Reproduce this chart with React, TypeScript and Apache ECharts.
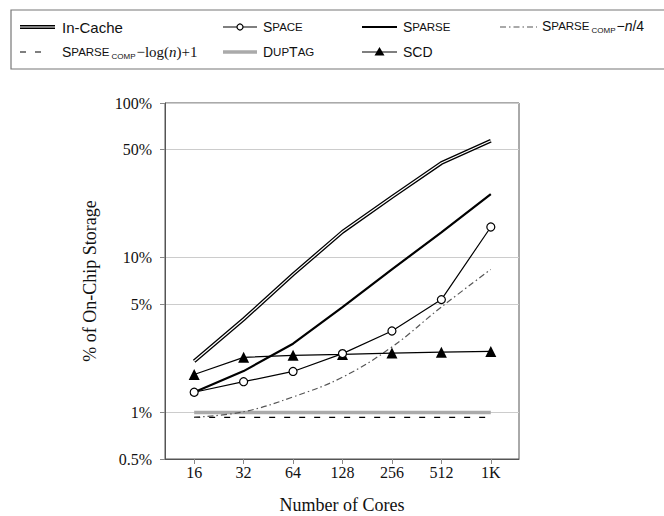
import React, { useEffect, useRef } from "react";
import * as echarts from "echarts";

const cores = [16, 32, 64, 128, 256, 512, 1024];
const inCache = [2.14, 4.0, 7.8, 14.7, 24.7, 40.9, 57];
const space = [1.35, 1.58, 1.84, 2.4, 3.36, 5.36, 15.8];
const sparse = [1.35, 1.85, 2.78, 4.8, 8.4, 14.6, 25.8];
const sparseN4 = [0.93, 1.01, 1.26, 1.69, 2.65, 4.8, 8.4];
const sparseLog = [0.93, 0.93, 0.93, 0.93, 0.93, 0.93, 0.93];
const dupTag = [1, 1, 1, 1, 1, 1, 1];
const scd = [1.76, 2.27, 2.34, 2.37, 2.42, 2.45, 2.48];
const yTicks = [0.5, 1, 5, 10, 50, 100];

const pts = (vals: number[]) => cores.map((c, i) => [c, vals[i]]);

const SANS = "'Liberation Sans', Arial, sans-serif";
const SERIF = "'Liberation Serif', 'Times New Roman', serif";

const capRich = {
  S: { fontFamily: SANS, fontSize: 14, lineHeight: 17, fill: "#111" },
  s: { fontFamily: SANS, fontSize: 11.5, lineHeight: 17, fill: "#111" },
  sub: { fontFamily: SANS, fontSize: 8, lineHeight: 9, verticalAlign: "bottom", fill: "#111", padding: [0, 1, 0, 2] },
  m: { fontFamily: SANS, fontSize: 14, lineHeight: 17, fill: "#111" },
  L: { fontFamily: SANS, fontSize: 15, lineHeight: 17, fill: "#111" },
  i: { fontFamily: SANS, fontSize: 14, fontStyle: "italic", lineHeight: 17, fill: "#111" },
  r: { fontFamily: SERIF, fontSize: 15, lineHeight: 17, fill: "#111" },
  ri: { fontFamily: SERIF, fontSize: 15, fontStyle: "italic", lineHeight: 17, fill: "#111" },
};

function legendGraphics() {
  const r1 = 27;
  const r2 = 52;
  const g: any[] = [];
  g.push({ type: "rect", shape: { x: 11, y: 10, width: 700, height: 59 }, style: { fill: "none", stroke: "#777", lineWidth: 1.2 } });
  const line = (x1: number, x2: number, y: number, style: any) =>
    g.push({ type: "line", shape: { x1, y1: y, x2, y2: y }, style: { stroke: "#000", lineWidth: 1.2, ...style } });
  const text = (x: number, y: number, t: string) =>
    g.push({ type: "text", x, y, style: { text: t, rich: capRich, verticalAlign: "middle", align: "left", font: `14px ${SANS}`, fill: "#111" } });
  // In-Cache
  line(20, 55, r1, { lineWidth: 3.8 });
  line(20, 55, r1, { lineWidth: 1.2, stroke: "#fff" });
  text(62, r1, "{L|In-Cache}");
  // Space
  line(223, 257, r1, {});
  g.push({ type: "circle", shape: { cx: 240, cy: r1, r: 3 }, style: { fill: "#fff", stroke: "#000", lineWidth: 1.2 } });
  text(263, r1, "{S|S}{s|PACE}");
  // Sparse
  line(362, 397, r1, { lineWidth: 2.2 });
  text(403, r1, "{S|S}{s|PARSE}");
  // Sparse comp n/4
  line(500, 537, r1, { stroke: "#555", lineDash: [6, 3, 1.5, 3] });
  text(542, r1 - 1, "{S|S}{s|PARSE}{sub|COMP}{m|−}{i|n}{m|/4}");
  // Sparse comp log(n)+1
  line(20, 42, r2, { lineDash: [6, 9] });
  text(62, r2, "{S|S}{s|PARSE}{sub|COMP}{r|−log(}{ri|n}{r|)+1}");
  // DupTag
  line(223, 257, r2, { stroke: "#aaa", lineWidth: 3.5 });
  text(263, r2, "{S|D}{s|UP}{S|T}{s|AG}");
  // SCD
  line(362, 397, r2, {});
  g.push({ type: "polygon", shape: { points: [[379.5, r2 - 5], [374.5, r2 + 3.5], [384.5, r2 + 3.5]] }, style: { fill: "#000" } });
  text(403, r2, "{m|SCD}");
  return g;
}

export default function App() {
  const ref = useRef<HTMLDivElement>(null);
  useEffect(() => {
    if (!ref.current) return;
    const chart = echarts.init(ref.current, undefined, { renderer: "svg" });
    const base = { type: "line", showSymbol: false, symbol: "none", z: 3 };
    chart.setOption({
      animation: false,
      backgroundColor: "#fff",
      grid: { left: 165, right: 145, top: 103, bottom: 57, show: true, borderColor: "#555", borderWidth: 1, outerBoundsMode: "none", containLabel: false },
      xAxis: {
        type: "log",
        logBase: 2,
        min: Math.pow(2, 3.41),
        max: Math.pow(2, 10.57),
        name: "Number of Cores",
        nameLocation: "middle",
        nameGap: 37,
        nameTextStyle: { fontFamily: SERIF, fontSize: 18, color: "#111" },
        axisLine: { lineStyle: { color: "#555" } },
        axisTick: { show: true, length: 5, customValues: cores, lineStyle: { color: "#888" } },
        axisLabel: {
          customValues: cores,
          margin: 5,
          fontFamily: SERIF,
          fontSize: 16,
          color: "#111",
          formatter: (v: number) => (Math.round(v) >= 1024 ? "1K" : String(Math.round(v))),
        },
        splitLine: { show: false },
      },
      yAxis: {
        type: "log",
        logBase: 10,
        min: 0.5,
        max: 100,
        name: "% of On-Chip Storage",
        nameLocation: "middle",
        nameGap: 66,
        nameTextStyle: { fontFamily: SERIF, fontSize: 18, color: "#111" },
        axisLine: { show: true, lineStyle: { color: "#555" } },
        axisTick: { show: true, length: 5, customValues: yTicks, lineStyle: { color: "#888" } },
        axisLabel: {
          customValues: yTicks,
          margin: 13,
          fontFamily: SERIF,
          fontSize: 16,
          color: "#111",
          formatter: (v: number) => `${parseFloat(v.toPrecision(3))}%`,
        },
        splitLine: { show: true, lineStyle: { color: "#ccc", width: 1 } },
      },
      graphic: legendGraphics(),
      series: [
        { ...base, name: "DupTag", data: pts(dupTag), lineStyle: { color: "#aaa", width: 3.5 }, z: 2 },
        { ...base, name: "SparseLog", data: pts(sparseLog), lineStyle: { color: "#000", width: 1.2, type: [6, 9] } },
        { ...base, name: "SparseN4", data: pts(sparseN4), smooth: 0.4, lineStyle: { color: "#555", width: 1.2, type: [6, 3, 1.5, 3] } },
        { ...base, name: "Sparse", data: pts(sparse), lineStyle: { color: "#000", width: 2.2 } },
        {
          ...base, name: "SCD", data: pts(scd), showSymbol: true, symbol: "triangle", symbolSize: 11,
          itemStyle: { color: "#000" }, lineStyle: { color: "#000", width: 1.2 },
        },
        {
          ...base, name: "Space", data: pts(space), showSymbol: true, symbol: "circle", symbolSize: 8,
          itemStyle: { color: "#fff", borderColor: "#000", borderWidth: 1.2 }, lineStyle: { color: "#000", width: 1.2 },
        },
        { ...base, name: "In-Cache", data: pts(inCache), lineStyle: { color: "#000", width: 3.8 } },
        { ...base, name: "In-Cache inner", data: pts(inCache), lineStyle: { color: "#fff", width: 1.2 }, z: 4 },
      ],
    });
    return () => chart.dispose();
  }, []);
  return <div ref={ref} style={{ width: 664, height: 516, position: "absolute", left: 0, top: 0 }} />;
}
